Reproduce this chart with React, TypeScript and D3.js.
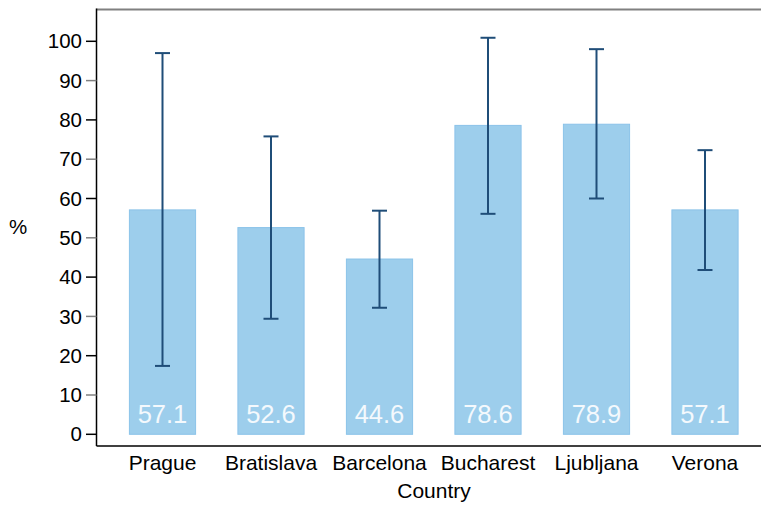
import React from "react";
import * as d3 from "d3";

const categories = ["Prague", "Bratislava", "Barcelona", "Bucharest", "Ljubljana", "Verona"];
const values = [57.1, 52.6, 44.6, 78.6, 78.9, 57.1];
const lower = [17.4, 29.4, 32.2, 56.1, 60.0, 41.8];
const upper = [97.0, 75.8, 56.9, 100.9, 98.0, 72.3];
const yTicks = [0, 10, 20, 30, 40, 50, 60, 70, 80, 90, 100];

const W = 761;
const H = 505;
const left = 96.5;
const right = 761;
const top = 9.5;
const bottom = 446;

export default function App() {
  const x = d3.scaleBand<string>().domain(categories).range([108.25, 759.25]).paddingInner(0.39).paddingOuter(0.195);
  const y = d3.scaleLinear().domain([0, 100]).range([434.3, 41.3]);
  const bw = x.bandwidth();
  const font = "Arial, 'Liberation Sans', sans-serif";
  return (
    <svg width={W} height={H} style={{ position: "absolute", left: 0, top: 0 }} fontFamily={font}>
      <rect x={0} y={0} width={W} height={H} fill="#fff" />
      {categories.map((c, i) => {
        const x0 = x(c)!;
        const cx = x0 + bw / 2;
        return (
          <g key={c}>
            <rect x={x0} y={y(values[i])} width={bw} height={y(0) - y(values[i])} fill="#9dceec" stroke="#8bc3e9" strokeWidth={1} />
            <line x1={cx} x2={cx} y1={y(lower[i])} y2={y(upper[i])} stroke="#1f4d78" strokeWidth={2} />
            <line x1={cx - 7.5} x2={cx + 7.5} y1={y(lower[i])} y2={y(lower[i])} stroke="#1f4d78" strokeWidth={2} />
            <line x1={cx - 7.5} x2={cx + 7.5} y1={y(upper[i])} y2={y(upper[i])} stroke="#1f4d78" strokeWidth={2} />
            <text x={cx} y={423} textAnchor="middle" fontSize={25.5} fill="#f4f9fd">{values[i].toFixed(1)}</text>
            <text x={cx} y={470} textAnchor="middle" fontSize={21} fill="#000">{c}</text>
          </g>
        );
      })}
      <line x1={left} x2={right} y1={top} y2={top} stroke="#808080" strokeWidth={2} />
      <line x1={left} x2={left} y1={top - 1} y2={bottom} stroke="#000" strokeWidth={1.5} />
      <line x1={left} x2={right} y1={bottom} y2={bottom} stroke="#000" strokeWidth={1.5} />
      {yTicks.map((t) => (
        <g key={t}>
          <line x1={86} x2={left} y1={y(t)} y2={y(t)} stroke={t % 20 === 0 ? "#000" : "#808080"} strokeWidth={1.5} />
          <text x={82} y={y(t)} dy="0.35em" textAnchor="end" fontSize={20.5} fill="#000">{t}</text>
        </g>
      ))}
      <text x={18} y={227} dy="0.35em" textAnchor="middle" fontSize={20.5} fill="#000">%</text>
      <text x={434} y={498} textAnchor="middle" fontSize={21} fill="#000">Country</text>
    </svg>
  );
}
